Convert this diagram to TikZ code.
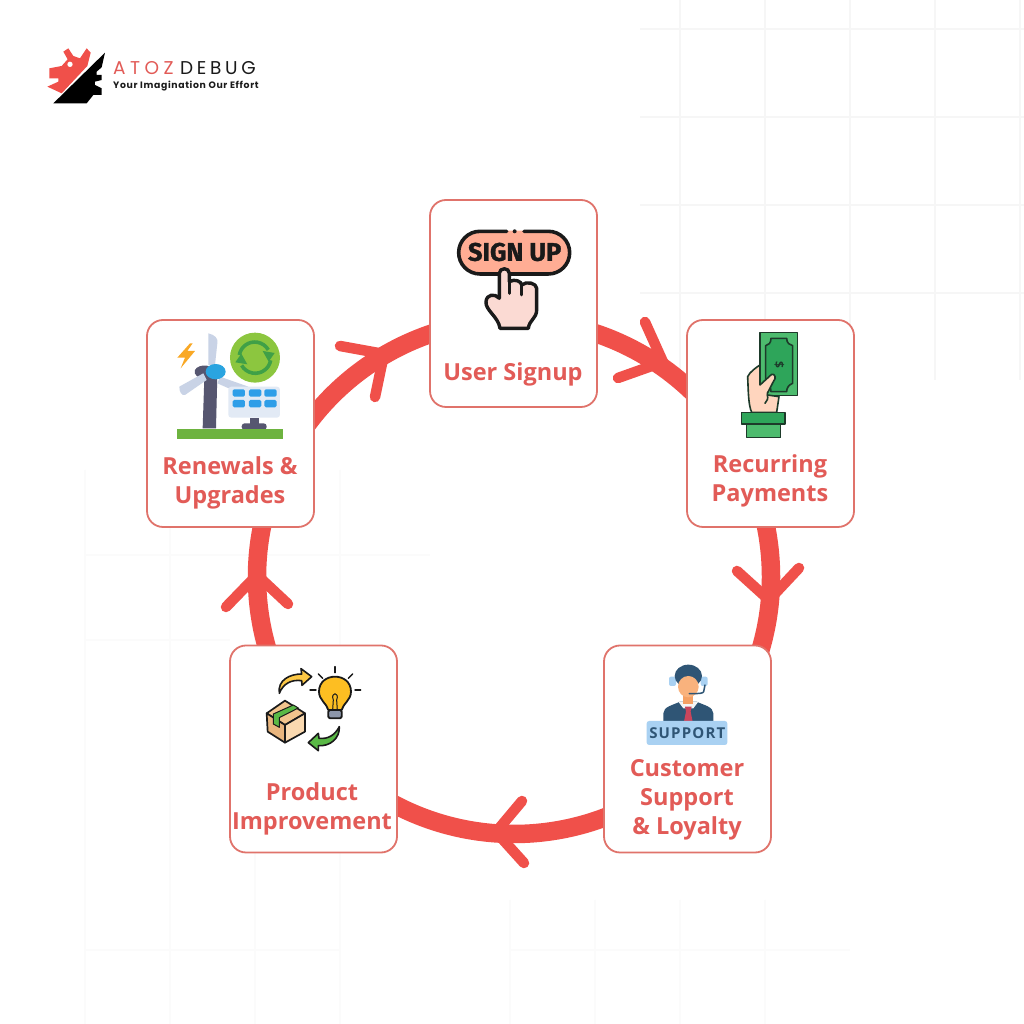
\documentclass[tikz,border=0pt]{standalone}
\usepackage{fontspec}
\setmainfont{Open Sans}
\newfontfamily\popb{Poppins}
\newfontfamily\fira{Fira Sans}
\usetikzlibrary{arrows.meta}
\definecolor{ringc}{HTML}{F0504A}
\definecolor{boxc}{HTML}{E0736B}
\definecolor{labc}{HTML}{E25B57}
\definecolor{ink}{HTML}{1A1A1A}
\definecolor{navy}{HTML}{2F5575}
\definecolor{mint}{HTML}{4DBB6E}
\definecolor{mintd}{HTML}{2EA55A}
\definecolor{inkg}{HTML}{1D3A2A}
\definecolor{skin}{HTML}{FFD5BE}
\definecolor{gridc}{HTML}{F6F6F6}
\definecolor{gridl}{HTML}{FBFBFB}
\definecolor{salmon}{HTML}{FFAD94}
\definecolor{handc}{HTML}{FBDAD3}
\definecolor{slate}{HTML}{565670}
\definecolor{blade}{HTML}{C9D3E6}
\definecolor{leaf}{HTML}{3FA047}
\tikzset{
  card/.style={draw=boxc,line width=1.8pt,fill=white,rounded corners=16pt,minimum width=167pt,minimum height=207pt,inner sep=0pt},
  lab/.style={text=labc,font=\fontsize{23.5}{29}\selectfont\bfseries,align=center,inner sep=0pt},
  ringarc/.style={draw=ringc,line width=18.5pt},
  chev/.style={draw=ringc,line width=10.5pt,line cap=round,line join=round},
  ic/.style={line width=1.6pt,line join=round,line cap=round},
  bk/.style={ic,draw=ink},
  gl/.style={draw=gridc,line width=1.4pt},
  gm/.style={draw=gridl,line width=1.4pt}
}
\begin{document}
\begin{tikzpicture}[x=1pt,y=1pt]
\useasboundingbox (0,0) rectangle (1024,1024);
\fill[white] (0,0) rectangle (1024,1024);
\begin{scope}[shift={(0,1024)},yscale=-1]
% background grid
\foreach \x in {680,765,850,935,1020} \draw[gl] (\x,0) -- (\x,380);
\foreach \y in {29,117,205,293} \draw[gl] (640,\y) -- (1024,\y);
\foreach \x in {85,170,255,340} \draw[gm] (\x,470) -- (\x,1024);
\foreach \x in {510,595,680,765} \draw[gm] (\x,900) -- (\x,1024);
\draw[gm] (85,555) -- (430,555);
\draw[gm] (85,640) -- (230,640);
\draw[gm] (85,950) -- (340,950);
\draw[gm] (510,950) -- (850,950);

% ring connectors
\coordinate (s12) at ({514+257*cos(-74)},{577+257*sin(-74)});
\coordinate (s23) at ({514+257*cos(-14)},{577+257*sin(-14)});
\coordinate (s34) at ({514+257*cos(67)},{577+257*sin(67)});
\coordinate (s45) at ({514+257*cos(162)},{577+257*sin(162)});
\coordinate (s51) at ({514+257*cos(216)},{577+257*sin(216)});
\draw[ringarc] (s12) arc[start angle=-74,end angle=-45,radius=257pt];
\draw[ringarc] (s23) arc[start angle=-14,end angle=18,radius=257pt];
\draw[ringarc] (s34) arc[start angle=67,end angle=120,radius=257pt];
\draw[ringarc] (s45) arc[start angle=162,end angle=194,radius=257pt];
\draw[ringarc] (s51) arc[start angle=216,end angle=254,radius=257pt];
% chevrons
\draw[chev] (645,322) -- (663,362) -- (618,378);
\draw[chev] (737,571) -- (769,600) -- (799,568);
\draw[chev] (522,801) -- (496,832) -- (524,863);
\draw[chev] (226,607) -- (257,575) -- (288,604);
\draw[chev] (340,346) -- (384,354) -- (375,397);

% cards
\node[card] (n1) at (513.5,303.5) {};
\node[card] (n2) at (770.5,423.5) {};
\node[card] (n3) at (687.5,749) {};
\node[card] (n4) at (313.5,749) {};
\node[card] (n5) at (230.5,423.5) {};
\node[lab] (l1) at (513,374.5) {User Signup};
\node[lab] (l2) at (770,480.5) {Recurring\\Payments};
\node[lab] (l3) at (687,799.5) {Customer\\Support\\\& Loyalty};
\node[lab] (l4) at (312,808.5) {Product\\Improvement};
\node[lab] (l5) at (230,482.5) {Renewals \&\\Upgrades};

% logo
\begin{scope}[shift={(30,30)},scale=0.3333]
\fill[ringc] (170,55)--(182,68)--(172,108)--(95,190)--(52,170)--(85,155)--(85,145)--(58,145)--(58,115)--(95,108)--(113,88)--(100,65)--(115,55)--(130,78)--(150,85)--cycle;
\fill[white] (120,103) circle (8);
\fill[black] (225,68)--(215,112)--(200,125)--(200,135)--(215,135)--(215,150)--(195,155)--(195,165)--(215,175)--(215,195)--(190,195)--(170,220)--(70,220)--cycle;
\end{scope}
\node[inner sep=0pt,anchor=west,text=labc,font={\popb\fontsize{18.5}{18}\selectfont\addfontfeature{LetterSpace=24}}] (lg1) at (113,68.5) {ATOZ};
\node[inner sep=0pt,anchor=west,text=ink,font={\popb\fontsize{18.5}{18}\selectfont\addfontfeature{LetterSpace=20}}] (lg2) at (180,68.5) {DEBUG};
\node[inner sep=0pt,anchor=west,text=ink,font={\popb\fontsize{9.3}{10}\selectfont\bfseries\addfontfeature{LetterSpace=7}}] (lg3) at (113,86) {Your Imagination Our Effort};

% sign up icon
\begin{scope}[shift={(420,190)},scale=0.3333]
\fill[salmon,rounded corners=21pt] (115,122) rectangle (450,252);
\draw[bk,line width=3.6pt] (260,124) -- (180,124) arc[start angle=270,end angle=90,radius=64] -- (385,252) arc[start angle=90,end angle=-90,radius=64] -- (312,124);
\fill[ink] (284,124) circle (6);
\node[inner sep=0pt,text=ink,font={\fira\fontsize{25.5}{26}\selectfont\bfseries\addfontfeature{FakeBold=1.2}}] (su) at (284,186) {SIGN UP};
\draw[bk,line width=3.4pt,fill=handc] (238,325) -- (238,250) .. controls (238,232) and (268,232) .. (268,250) -- (268,275) .. controls (285,265) and (305,275) .. (305,285) .. controls (320,272) and (350,280) .. (350,295) -- (350,360) .. controls (350,385) and (328,390) .. (325,415) -- (240,415) .. controls (235,380) and (195,360) .. (198,335) .. controls (200,312) and (225,310) .. (238,325);
\draw[bk,line width=3pt] (268,275) -- (268,310);
\draw[bk,line width=3pt] (305,285) -- (305,315);
\end{scope}

% money icon
\begin{scope}[shift={(680,315)},scale=0.3333]
\draw[ic,draw=inkg,fill=mint] (240,53) rectangle (352,242);
\draw[ic,draw=inkg,fill=mintd] (273,70) -- (320,70) .. controls (320,85) and (330,90) .. (338,92) -- (338,205) .. controls (325,210) and (320,220) .. (320,230) -- (273,230) .. controls (273,215) and (265,208) .. (257,205) -- (257,92) .. controls (265,90) and (273,85) .. (273,70) -- cycle;
\node[inner sep=0pt,rotate=-90,text=inkg,font={\fontsize{12}{12}\selectfont\bfseries}] (dollar) at (298,150) {\$};
\draw[ic,draw=inkg,fill=skin] (215,292) .. controls (205,270) and (205,230) .. (203,185) .. controls (210,170) and (228,158) .. (240,150) -- (240,210) -- (275,178) .. controls (285,175) and (290,190) .. (280,200) -- (262,235) -- (262,240) -- (297,245) -- (290,292) -- cycle;
\draw[ic,draw=inkg] (262,240) .. controls (265,250) and (262,258) .. (255,265);
\draw[ic,draw=inkg,fill=mint] (200,327) rectangle (302,368);
\draw[ic,draw=inkg,fill=mintd] (185,293) rectangle (315,327);
\end{scope}

% renewables icon
\begin{scope}[shift={(140,315)},scale=0.3333]
\fill[blade] (205,55) .. controls (225,60) and (235,70) .. (232,85) -- (225,150) -- (205,150) -- cycle;
\fill[slate] (188,340) -- (193,190) .. controls (175,190) and (160,180) .. (165,165) .. controls (175,145) and (225,145) .. (232,180) -- (228,340) -- cycle;
\fill[blade] (118,215) -- (190,175) -- (200,195) -- (135,240) .. controls (125,242) and (118,232) .. (118,215) -- cycle;
\fill[blade] (240,185) -- (325,215) -- (300,235) -- (232,205) -- cycle;
\fill[color={rgb,255:red,42;green,164;blue,224}] (227,170) ellipse (30 and 23);
\fill[color={rgb,255:red,140;green,198;blue,63}] (345,128) circle (75);
\draw[leaf,line width=3.6pt] (298,120) arc[start angle=190,end angle=330,radius=47];
\draw[leaf,line width=3.6pt] (392,136) arc[start angle=10,end angle=150,radius=47];
\fill[leaf] (368,108)--(404,114)--(386,140)--cycle;
\fill[leaf] (322,148)--(286,142)--(304,116)--cycle;
\fill[color={rgb,255:red,226;green,234;blue,245},rounded corners=3pt] (265,215) rectangle (420,308);
\foreach \cx in {278,327,373} \foreach \cy in {223,255} \fill[color={rgb,255:red,46;green,158;blue,232},rounded corners=1.5pt] (\cx,\cy) rectangle ++(37,22);
\fill[slate] (330,308) rectangle (358,330);
\fill[slate,rounded corners=3pt] (305,325) rectangle (380,345);
\fill[color={rgb,255:red,109;green,179;blue,63}] (112,342) rectangle (430,372);
\fill[color={rgb,255:red,249;green,168;blue,37}] (150,85)--(112,128)--(135,128)--(122,160)--(165,108)--(142,108)--(158,85)--cycle;
\end{scope}

% support icon
\begin{scope}[shift={(600,650)},scale=0.3333]
\fill[navy] (190,215) -- (190,190) .. controls (190,170) and (220,165) .. (240,155) -- (290,155) .. controls (310,165) and (340,170) .. (340,190) -- (340,215) -- cycle;
\fill[color={rgb,255:red,245;green,245;blue,245}] (235,155)--(295,155)--(280,175)--(250,175)--cycle;
\fill[color={rgb,255:red,201;green,69;blue,92}] (255,170)--(275,170)--(272,185)--(278,215)--(252,215)--(258,185)--cycle;
\fill[color={rgb,255:red,245;green,160;blue,100}] (250,125) rectangle (280,162);
\fill[color={rgb,255:red,169;green,209;blue,242},rounded corners=2pt] (207,80) rectangle (228,108);
\fill[color={rgb,255:red,169;green,209;blue,242},rounded corners=2pt] (302,80) rectangle (323,108);
\fill[navy] (265,78) ellipse (41 and 34);
\fill[color={rgb,255:red,249;green,178;blue,125}] (265,110) ellipse (31 and 32);
\draw[ic,draw=navy,line width=1.5pt] (315,105) -- (311,125) .. controls (310,130) and (300,131) .. (268,131);
\fill[color={rgb,255:red,169;green,209;blue,242},rounded corners=2.5pt] (140,213) rectangle (382,285);
\node[inner sep=0pt,text=navy,font={\fontsize{15}{15}\selectfont\bfseries\addfontfeature{LetterSpace=8}}] (sp) at (262,249) {SUPPORT};
\end{scope}

% product icon
\begin{scope}[shift={(240,650)},scale=0.3333]
\draw[bk,fill={rgb,255:red,253;green,190;blue,34},line width=1.8pt] (265,180) .. controls (260,160) and (237,150) .. (237,125) .. controls (237,65) and (333,65) .. (333,125) .. controls (333,150) and (310,160) .. (305,180) -- cycle;
\draw[bk,line width=1pt] (278,180) -- (280,150) .. controls (270,125) and (300,125) .. (290,150) -- (292,180);
\draw[bk,fill={rgb,255:red,140;green,150;blue,170},line width=1.8pt,rounded corners=1.5pt] (265,180) rectangle (305,205);
\foreach \a/\b/\c/\d in {285/50/285/68,210/120/228/120,345/120/362/120,235/72/248/85,338/72/325/85} \draw[bk,line width=1.4pt] (\a,\b) -- (\c,\d);
\draw[bk,fill={rgb,255:red,253;green,200;blue,70},line width=1.6pt] (118,130) .. controls (112,90) and (150,72) .. (185,72) -- (183,56) -- (215,80) -- (186,106) -- (185,92) .. controls (155,88) and (130,100) .. (118,130) -- cycle;
\draw[bk,fill={rgb,255:red,90;green,185;blue,70},line width=1.6pt] (298,230) .. controls (300,265) and (270,290) .. (235,287) -- (235,302) -- (205,278) -- (235,250) -- (237,265) .. controls (265,268) and (285,255) .. (298,230) -- cycle;
\draw[bk,fill={rgb,255:red,242;green,196;blue,141},line width=1.7pt] (135,152) -- (195,190) -- (135,225) -- (80,190) -- cycle;
\draw[bk,fill={rgb,255:red,232;green,181;blue,126},line width=1.7pt] (80,190) -- (135,225) -- (135,278) -- (83,245) -- cycle;
\draw[bk,fill={rgb,255:red,250;green,217;blue,176},line width=1.7pt] (195,190) -- (135,225) -- (135,278) -- (195,245) -- cycle;
\draw[bk,fill={rgb,255:red,90;green,185;blue,70},line width=1pt] (100,192) -- (160,165) -- (175,174) -- (118,203) -- (118,232) -- (100,222) -- cycle;
\end{scope}
\end{scope}
\end{tikzpicture}
\end{document}
